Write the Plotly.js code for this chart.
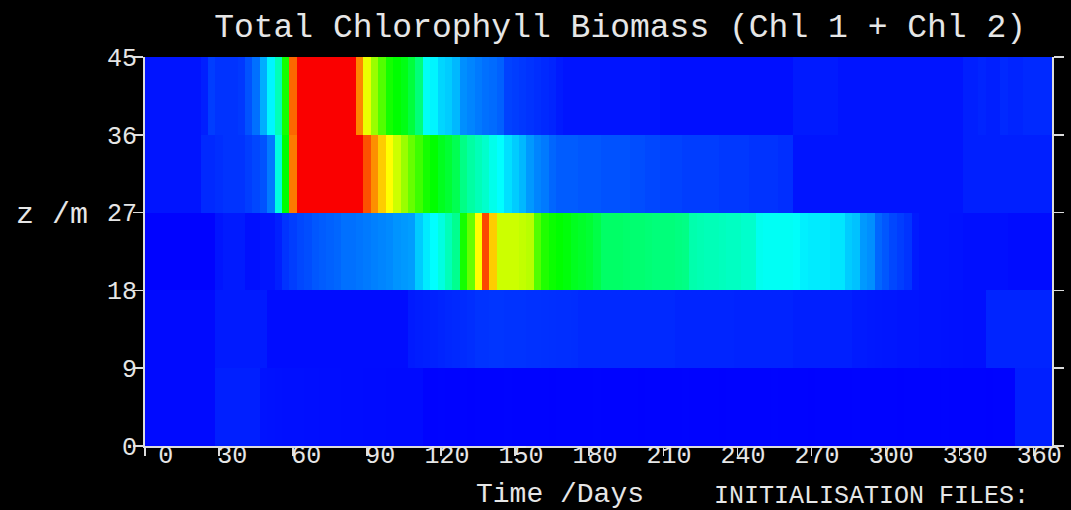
<!DOCTYPE html>
<html><head><meta charset="utf-8">
<script src="https://cdn.plot.ly/plotly-3.0.1.min.js"></script>
<style>html,body{margin:0;padding:0;background:#000;} #chart{width:1071px;height:510px;}</style>
</head><body><div id="chart"></div>
<script>
// Time grid (days)
const days = [0,3,6,9,12,15,18,21,24,27,30,33,36,39,42,45,48,51,54,57,60,63,66,69,72,75,78,81,84,87,90,93,96,99,102,105,108,111,114,117,120,123,126,129,132,135,138,141,144,147,150,153,156,159,162,165,168,171,174,177,180,183,186,189,192,195,198,201,204,207,210,213,216,219,222,225,228,231,234,237,240,243,246,249,252,255,258,261,264,267,270,273,276,279,282,285,288,291,294,297,300,303,306,309,312,315,318,321,324,327,330,333,336,339,342,345,348,351,354,357,360,363,366];
// Depth band centres (m)
const depthCentres = [4.5, 13.5, 22.5, 31.5, 40.5];

// Chlorophyll biomass per depth band (arbitrary units, red >= 10)
const chl0to9 = [
 0.1,0.1,0.1,0.1,0.1,0.1,0.1,0.1,0.1,0.1,
 0.3,0.3,0.3,0.3,0.3,0.3,
 0.18,0.17,0.16,0.15,0.15,0.15,0.14,0.14,0.13,0.13,0.13,0.12,0.12,0.12,0.11,0.11,0.11,0.1,0.1,0.1,0.1,0.1,
 0.03,0.03,0.04,0.03,0.03,0.03,0.02,0.03,0.03,0.03,
 0.03,0.04,0.03,0.03,0.03,0.03,0.03,0.02,0.03,0.03,
 0.03,0.03,0.03,0.04,0.03,0.03,0.03,0.03,0.03,0.02,
 0.03,0.03,0.03,0.03,0.03,0.04,0.03,0.03,0.03,0.03,
 0.02,0.03,0.03,0.03,0.03,0.03,0.03,0.04,0.03,0.03,
 0.03,0.03,0.02,0.03,0.03,0.03,0.03,0.03,0.04,0.03,
 0.03,0.03,0.03,0.03,0.02,0.03,0.03,0.03,0.03,0.03,
 0.04,0.03,0.03,0.03,0.03,0.03,0.02,0.03,0.03,0.03,
 0.3,0.3,0.3,0.3,0.3
];
const chl9to18 = [
 0.1,0.1,0.1,0.1,0.1,0.1,0.1,0.1,0.1,0.1,
 0.25,0.25,0.25,0.25,0.25,0.25,0.25,
 0.12,0.12,0.12,0.12,0.12,0.12,0.12,0.12,0.12,0.12,0.12,0.12,0.12,0.12,0.12,0.12,0.12,0.12,0.12,
 0.25,0.28,0.3,0.32,0.35,0.38,0.4,0.42,0.45,
 0.5,0.5,0.52,0.52,0.5,0.5,0.5,0.48,0.48,0.47,0.46,0.45,0.45,0.44,
 0.4,0.4,0.4,0.4,0.4,0.4,0.4,0.4,0.4,0.4,0.4,0.4,0.4,
 0.36,0.36,0.36,0.36,0.36,0.36,0.36,0.36,0.34,0.34,0.34,0.34,0.34,0.34,0.34,0.34,0.3,0.3,0.3,0.3,0.3,0.3,0.3,0.3,
 0.25,0.25,0.24,0.23,0.22,0.22,0.2,0.2,0.2,0.18,0.18,0.18,0.17,0.16,0.16,0.15,0.15,0.15,
 0.35,0.35,0.35,0.35,0.35,0.35,0.35,0.35,0.35
];
const chl18to27 = [
 0.03,0.03,0.03,0.03,0.03,0.03,0.03,0.03,0.03,0.03,
 0.2,0.25,0.25,0.25,
 0.15,0.15,0.2,0.2,0.3,
 0.5,0.6,0.7,0.75,0.85,0.9,0.95,1.0,
 1.1,1.1,1.15,1.2,1.25,1.3,1.35,1.45,1.5,1.55,
 2.0,2.3,2.5,2.8,3.2,3.6,5.2,6.0,7.5,9.3,8.0,7.0,
 7.0,7.0,6.9,6.8,5.8,5.3,5.1,5.0,4.9,
 4.7,4.6,4.5,4.3,
 4.0,4.0,4.0,3.95,3.9,3.9,3.85,3.8,3.8,3.8,3.75,3.7,
 3.3,3.25,3.2,3.2,3.15,3.1,3.1,3.0,3.0,
 2.65,2.6,2.6,2.6,2.6,2.55,
 2.35,2.3,2.3,2.3,2.25,2.25,
 2.0,1.9,1.5,1.4,
 1.0,0.85,0.7,0.6,0.5,
 0.25,0.2,0.2,0.2,0.2,0.18,0.18,0.15,0.15,0.15,0.15,0.15,0.15,0.12,0.12,0.12,0.12,0.12,0.12
];
const chl27to36 = [
 0.2,0.2,0.2,0.2,0.2,0.2,0.2,0.2,
 0.4,0.4,0.45,0.5,0.5,0.5,0.6,0.7,0.8,1.2,2.8,5.0,8.8,
 10.5,10.5,10.5,10.5,10.5,10.5,10.5,10.5,10.5,
 9.2,8.6,8.0,7.5,7.0,6.5,6.0,5.6,5.2,5.0,4.7,4.5,4.2,3.7,3.4,3.2,3.0,2.7,2.5,2.2,2.0,1.8,1.5,1.3,1.2,1.0,
 0.9,0.9,0.9,0.85,0.85,0.85,0.8,0.8,0.8,0.8,0.75,0.75,0.7,0.7,
 0.65,0.65,0.65,0.6,0.6,0.6,0.6,0.6,0.55,0.55,0.55,0.55,0.5,0.5,0.5,0.5,0.45,0.45,
 0.2,0.2,0.2,0.2,0.2,0.2,0.2,0.2,0.2,0.2,0.2,0.2,0.2,0.2,0.2,0.2,0.2,0.2,0.2,0.2,0.2,0.2,0.2,
 0.3,0.3,0.3,0.3,0.3,0.3,0.3,0.3,0.3,0.3,0.3,0.3
];
const chl36to45 = [
 0.2,0.2,0.2,0.2,0.2,0.2,0.2,0.2,
 0.3,0.6,0.5,0.5,0.5,0.55,0.8,1.1,1.7,2.4,3.2,5.2,9.0,
 10.5,10.5,10.5,10.5,10.5,10.5,10.5,10.5,
 8.7,7.3,6.5,5.8,5.2,5.0,4.8,4.4,3.8,2.6,2.4,2.1,2.0,1.8,1.4,1.3,1.2,1.1,1.05,0.95,0.65,0.6,0.55,0.5,0.45,0.4,0.35,0.25,
 0.2,0.2,0.2,0.2,0.2,0.2,0.2,0.2,0.2,0.2,0.2,0.2,0.2,
 0.15,0.15,0.15,0.15,0.15,0.15,0.15,0.15,0.15,0.15,0.15,0.15,0.15,0.15,0.15,0.15,0.15,0.15,
 0.25,0.25,0.25,0.25,0.25,0.25,
 0.2,0.2,0.2,0.2,0.2,0.2,0.2,0.2,0.2,0.2,0.2,0.2,0.2,0.2,0.2,0.2,0.2,
 0.3,0.3,0.35,0.3,0.3,0.4,0.35,0.35,0.4,0.4,0.4,0.4
];

// Tick labels
const xTickVals = [0,30,60,90,120,150,180,210,240,270,300,330,360];
const xTickText = ['0','30','60','90','120','150','180','210','240','270','300','330','360'];
const yTickVals = [0,9,18,27,36,45];
const yTickText = ['0','9','18','27','36','45'];

const FONT = 'Liberation Mono, Courier New, monospace';
const TXT = '#e6e6e6';
const LINE = '#dcdcdc';

const trace = {
  type: 'heatmap',
  x: days,
  y: depthCentres,
  z: [chl0to9, chl9to18, chl18to27, chl27to36, chl36to45],
  zmin: 0, zmax: 10,
  colorscale: [[0,'rgb(0,0,255)'],[0.25,'rgb(0,255,255)'],[0.5,'rgb(0,255,0)'],[0.75,'rgb(255,255,0)'],[1,'rgb(250,0,0)']],
  showscale: false,
  hoverinfo: 'skip'
};

const layout = {
  width: 1071, height: 510,
  paper_bgcolor: '#000', plot_bgcolor: '#000',
  margin: {l: 145, r: 19, t: 57, b: 64},
  font: {family: FONT, color: TXT},
  showlegend: false,
  title: {
    text: 'Total Chlorophyll Biomass (Chl 1 + Chl 2)',
    font: {family: FONT, size: 33, color: TXT},
    xref: 'container', x: 0.579, xanchor: 'center',
    yref: 'container', y: 0.951, yanchor: 'middle'
  },
  xaxis: {
    range: [0, 367.5],
    tickmode: 'array', tickvals: xTickVals, ticktext: xTickText,
    ticks: 'outside', ticklen: 8, tickwidth: 1.5, tickcolor: LINE,
    showline: true, linecolor: LINE, linewidth: 2,
    showgrid: false, zeroline: false,
    tickfont: {family: FONT, size: 25, color: TXT},
    ticklabelposition: 'outside left',
    ticklabelshift: 30,
    ticklabelstandoff: -15,
    fixedrange: true
  },
  yaxis: {
    range: [0, 45],
    tickmode: 'array', tickvals: yTickVals, ticktext: yTickText,
    ticks: 'outside', ticklen: 10, tickwidth: 1.5, tickcolor: LINE,
    showline: true, mirror: 'ticks', linecolor: LINE, linewidth: 2,
    showgrid: false, zeroline: false,
    tickfont: {family: FONT, size: 25, color: TXT},
    ticklabelstandoff: -9,
    fixedrange: true
  },
  annotations: [
    {text: 'z /m', xref: 'paper', yref: 'paper', x: -0.1025, y: 0.594, xanchor: 'center', yanchor: 'middle', showarrow: false, font: {family: FONT, size: 30, color: TXT}},
    {text: 'Time /Days', xref: 'paper', yref: 'paper', x: 0.4576, y: -0.1234, xanchor: 'center', yanchor: 'middle', showarrow: false, font: {family: FONT, size: 28, color: TXT}},
    {text: 'INITIALISATION FILES:', xref: 'paper', yref: 'paper', x: 0.625, y: -0.13, xanchor: 'left', yanchor: 'middle', showarrow: false, font: {family: FONT, size: 25, color: TXT}}
  ]
};

Plotly.newPlot('chart', [trace], layout, {staticPlot: true, displayModeBar: false});
</script>
</body></html>
